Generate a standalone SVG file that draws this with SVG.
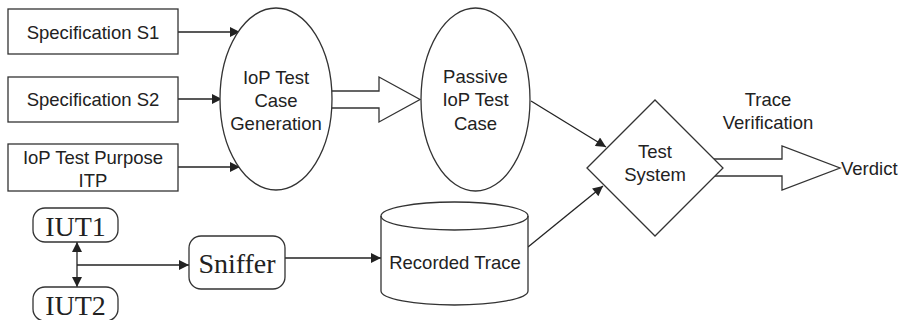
<svg xmlns="http://www.w3.org/2000/svg" width="901" height="320" viewBox="0 0 901 320">
<defs>
<style>
.s{fill:#fff;stroke:#333;stroke-width:1.3}
.t{font-family:"Liberation Sans",Arial,sans-serif;font-size:18.5px;fill:#222;text-anchor:middle;dominant-baseline:central}
.r{font-family:"Liberation Serif","Times New Roman",serif;font-size:28px;fill:#222;text-anchor:middle;dominant-baseline:central}
.c{fill:none;stroke:#222;stroke-width:1.3}
</style>
<marker id="a" viewBox="0 0 10 10" refX="10" refY="5" markerWidth="15" markerHeight="10" markerUnits="userSpaceOnUse" orient="auto-start-reverse">
<path d="M0,0 L10,5 L0,10 z" fill="#222"/>
</marker>
</defs>
<rect width="901" height="320" fill="#fff"/>
<g id="connectors">
<line class="c" x1="178" y1="32" x2="240" y2="32" marker-end="url(#a)"/>
<line class="c" x1="178" y1="99" x2="222" y2="99" marker-end="url(#a)"/>
<line class="c" x1="178" y1="167" x2="240" y2="167" marker-end="url(#a)"/>
<path class="s" d="M331,91 H379 V77 L420,99.5 L379,122 V108 H331"/>
<line class="c" x1="531" y1="101" x2="606" y2="147" marker-end="url(#a)"/>
<line class="c" x1="528" y1="247" x2="603" y2="186" marker-end="url(#a)"/>
<path class="s" d="M714,159 H782 V146 L840,168 L782,190 V176 H715"/>
<line class="c" x1="77" y1="242" x2="77" y2="287" marker-start="url(#a)" marker-end="url(#a)"/>
<line class="c" x1="77" y1="265" x2="189" y2="265" marker-end="url(#a)"/>
<line class="c" x1="285" y1="258" x2="381" y2="258" marker-end="url(#a)"/>
</g>
<g id="spec1"><rect class="s" x="8" y="9" width="170" height="45"/><text class="t" x="93" y="32">Specification S1</text></g>
<g id="spec2"><rect class="s" x="8" y="77" width="170" height="45"/><text class="t" x="93" y="99">Specification S2</text></g>
<g id="itp"><rect class="s" x="8" y="144" width="170" height="47"/><text class="t" x="93" y="157">IoP Test Purpose</text><text class="t" x="93" y="180">ITP</text></g>
<g id="gen"><ellipse class="s" cx="276" cy="99" rx="56" ry="91"/><text class="t" x="276" y="77">IoP Test</text><text class="t" x="276" y="100">Case</text><text class="t" x="276" y="123">Generation</text></g>
<g id="passive"><ellipse class="s" cx="475.5" cy="99.5" rx="54.5" ry="91.5"/><text class="t" x="475.5" y="76">Passive</text><text class="t" x="475.5" y="99">IoP Test</text><text class="t" x="475.5" y="123">Case</text></g>
<g id="testsystem"><polygon class="s" points="587,168 655,100 723,168 655,236"/><text class="t" x="655" y="151">Test</text><text class="t" x="655" y="174">System</text></g>
<g id="traceverif"><text class="t" x="768" y="99">Trace</text><text class="t" x="768" y="122">Verification</text></g>
<g id="verdict"><text class="t" x="841" y="168" text-anchor="start" style="text-anchor:start">Verdict</text></g>
<g id="recorded"><path class="s" d="M381,216 A73.5,14 0 0 1 528,216 V291 A73.5,14 0 0 1 381,291 Z"/><path class="c" d="M381,216 A73.5,14 0 0 0 528,216" style="stroke:#333"/><text class="t" x="455" y="262">Recorded Trace</text></g>
<g id="iut1"><rect class="s" x="33" y="208" width="85" height="34" rx="12"/><text class="r" x="75.5" y="226">IUT1</text></g>
<g id="iut2"><rect class="s" x="33" y="287" width="85" height="34" rx="12"/><text class="r" x="75.5" y="305">IUT2</text></g>
<g id="sniffer"><rect class="s" x="189" y="236" width="96" height="53" rx="12"/><text class="r" x="237" y="263">Sniffer</text></g>
</svg>
